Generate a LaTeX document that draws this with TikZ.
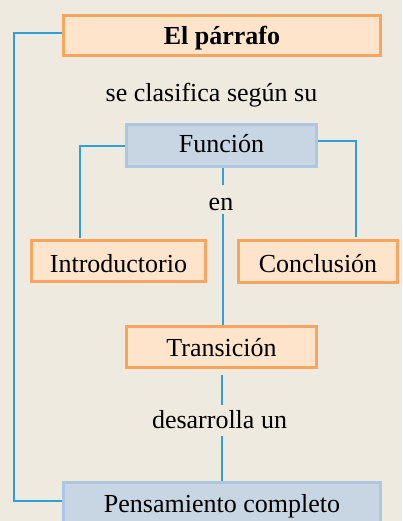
\documentclass[tikz,border=0pt]{standalone}
\usepackage{fontspec}
\setmainfont{Liberation Serif}
\definecolor{bgc}{HTML}{EEEAE0}
\definecolor{peach}{HTML}{FDE4CA}
\definecolor{orangeb}{HTML}{F8A55F}
\definecolor{bluef}{HTML}{C8D5E3}
\definecolor{blueb}{HTML}{AEC6DE}
\definecolor{linec}{HTML}{2F9FD8}
\begin{document}
\begin{tikzpicture}[x=1pt,y=-1pt,
  txt/.style={font=\fontsize{26}{29}\selectfont, text=black},
  obox/.style={txt, draw=orangeb, fill=peach, line width=3pt, inner sep=0pt, minimum height=0pt},
  bbox/.style={txt, draw=blueb, fill=bluef, line width=3pt, inner sep=0pt, minimum height=0pt},
  lbl/.style={txt, inner sep=0pt, anchor=base},
  conn/.style={draw=linec, line width=1.6pt}]
\fill[bgc] (0,0) rectangle (402,521);
\useasboundingbox (0,0) rectangle (402,521);
\begin{scope}
\clip (0,0) rectangle (402,521);
\node[obox, minimum width=317pt, text height=29.5pt, text depth=10.5pt] (el) at (222,35.5) {\textbf{El párrafo}};
\node[lbl] (clas) at (211.5,102) {se clasifica según su};
\node[bbox, minimum width=190pt, text height=28.5pt, text depth=13.5pt] (fun) at (221.5,145.5) {Función};
\node[lbl] (en) at (221,211) {en};
\node[obox, minimum width=174pt, text height=31.5pt, text depth=9.5pt] (intro) at (118.5,261) {Introductorio};
\node[obox, minimum width=159pt, text height=31.5pt, text depth=10.5pt] (concl) at (318,261.5) {Conclusión};
\node[obox, minimum width=190pt, text height=29.5pt, text depth=11.5pt] (trans) at (221.5,347) {Transición};
\node[lbl] (des) at (219.5,428) {desarrolla un};
\node[bbox, minimum width=317pt, text height=29.5pt, text depth=11.5pt] (pens) at (222,503) {Pensamiento completo};

\coordinate (lx) at (14,0);
\coordinate (ix) at (80,0);
\coordinate (cx) at (356,0);
\coordinate (cy) at (0,141);
\coordinate (fy) at (0,146);
\coordinate (ty) at (0,33);
\coordinate (by) at (0,501);
\coordinate (mx) at (223,0);
\coordinate (dx) at (222,0);
\coordinate (ey1) at (0,185);
\coordinate (ey2) at (0,214);
\coordinate (dy1) at (0,375);
\coordinate (dy2) at (0,405);
\coordinate (dy3) at (0,436);
\coordinate (cend) at (356,237);
\coordinate (iend) at (80,238);

\draw[conn] (el.west |- ty) -- (lx |- ty) -- (lx |- by) -- (pens.west |- by);
\draw[conn] (fun.west |- fy) -- (ix |- fy) -- (iend);
\draw[conn] (fun.east |- cy) -- (cx |- cy) -- (cend);
\draw[conn] (mx |- fun.south) -- (mx |- ey1);
\draw[conn] (mx |- ey2) -- (mx |- trans.north);
\draw[conn] (dx |- dy1) -- (dx |- dy2);
\draw[conn] (dx |- dy3) -- (dx |- pens.north);
\end{scope}
\end{tikzpicture}
\end{document}
